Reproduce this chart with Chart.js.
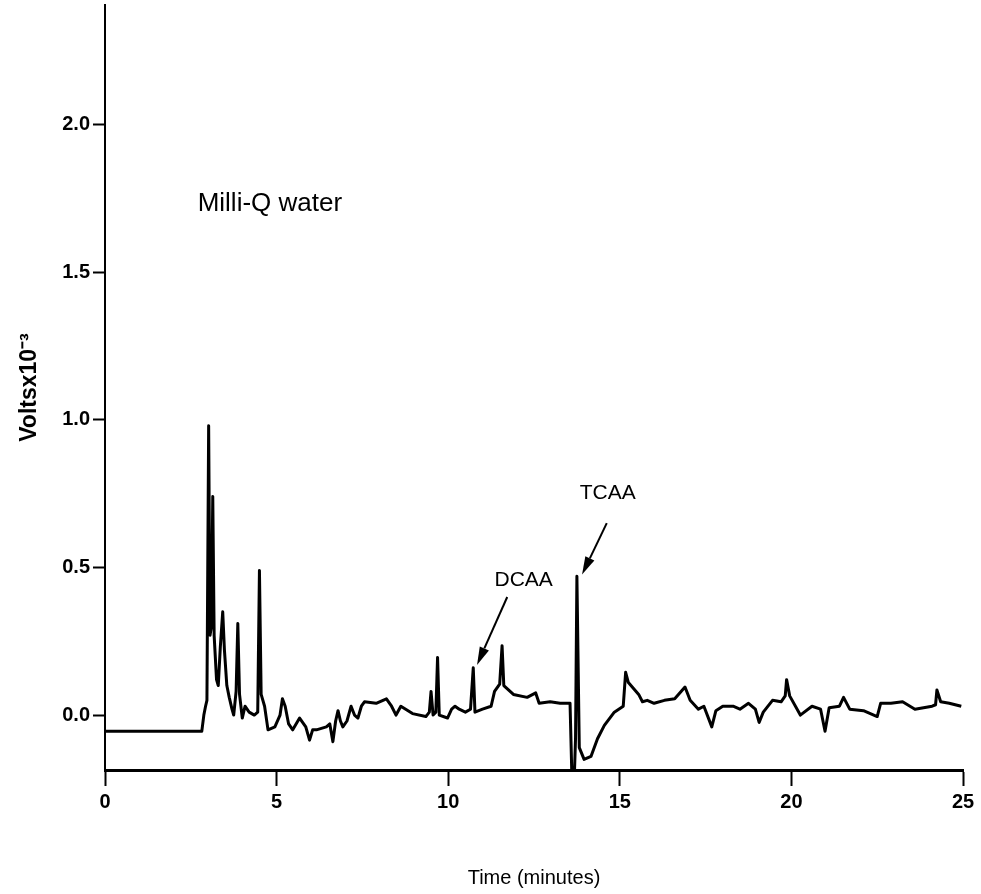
<!DOCTYPE html>
<html>
<head>
<meta charset="utf-8">
<script src="https://cdn.jsdelivr.net/npm/chart.js@4.4.0/dist/chart.umd.min.js"></script>
<style>
  html, body { margin: 0; padding: 0; background: #fff; }
  #wrap { width: 981px; height: 894px; }
</style>
</head>
<body>
<div id="wrap"><canvas id="chromChart" width="981" height="894"></canvas></div>
<script>
// retention time (minutes)
const times = [
  0, 2.82, 2.88, 2.93, 2.97, 3.02, 3.06, 3.10, 3.14, 3.18, 3.25, 3.30, 3.36, 3.43, 3.48,
  3.55, 3.62, 3.70, 3.75, 3.82, 3.87, 3.92, 4.0, 4.08, 4.2, 4.35, 4.45, 4.50, 4.55, 4.65,
  4.75, 4.95, 5.1, 5.17, 5.25, 5.35, 5.47, 5.67, 5.85, 5.96, 6.05, 6.16, 6.45, 6.55, 6.64,
  6.72, 6.79, 6.86, 6.93, 7.05, 7.17, 7.27, 7.37, 7.47, 7.56, 7.9, 8.2, 8.35, 8.48, 8.62,
  8.96, 9.35, 9.45, 9.5, 9.56, 9.64, 9.69, 9.74, 9.98, 10.1, 10.2, 10.32, 10.5, 10.65, 10.73,
  10.78, 11.0, 11.25, 11.35, 11.5, 11.57, 11.62, 11.9, 12.3, 12.55, 12.65, 12.97, 13.26, 13.55, 13.6,
  13.68, 13.71, 13.75, 13.82, 13.96, 14.16, 14.35, 14.55, 14.84, 15.1, 15.17, 15.25, 15.55, 15.66, 15.8,
  16.0, 16.3, 16.6, 16.9, 17.05, 17.29, 17.45, 17.68, 17.8, 18.0, 18.3, 18.5, 18.75, 18.95, 19.06,
  19.18, 19.45, 19.7, 19.82, 19.86, 19.95, 20.26, 20.6, 20.85, 20.98, 21.1, 21.4, 21.52, 21.7, 22.1,
  22.5, 22.6, 22.9, 23.24, 23.6, 24.1, 24.2, 24.24, 24.35, 24.6, 24.95
];

// detector signal (Volts x 10^-3)
const volts = [
  -0.055, -0.055, 0.0, 0.03, 0.05, 0.98, 0.27, 0.30, 0.74, 0.27, 0.12, 0.10, 0.23, 0.35, 0.22,
  0.10, 0.06, 0.02, 0.0, 0.08, 0.31, 0.07, -0.01, 0.03, 0.01, 0.0, 0.01, 0.49, 0.07, 0.03,
  -0.05, -0.04, 0.0, 0.055, 0.03, -0.03, -0.05, -0.01, -0.04, -0.085, -0.05, -0.05, -0.04, -0.03, -0.09,
  -0.02, 0.015, -0.02, -0.04, -0.02, 0.03, 0.0, -0.01, 0.03, 0.045, 0.04, 0.055, 0.03, 0.0, 0.03,
  0.005, -0.005, 0.01, 0.08, 0.0, 0.01, 0.195, 0.0, -0.01, 0.02, 0.03, 0.02, 0.01, 0.02, 0.16,
  0.01, 0.02, 0.03, 0.08, 0.105, 0.235, 0.10, 0.07, 0.06, 0.075, 0.04, 0.045, 0.04, 0.04, -0.19,
  -0.19, -0.08, 0.47, -0.11, -0.15, -0.14, -0.08, -0.035, 0.01, 0.03, 0.145, 0.11, 0.07, 0.045, 0.05,
  0.04, 0.05, 0.055, 0.095, 0.05, 0.02, 0.03, -0.04, 0.015, 0.03, 0.03, 0.02, 0.04, 0.02, -0.025,
  0.01, 0.05, 0.045, 0.065, 0.12, 0.065, 0.0, 0.03, 0.02, -0.055, 0.025, 0.03, 0.06, 0.02, 0.015,
  -0.005, 0.04, 0.04, 0.045, 0.02, 0.03, 0.035, 0.085, 0.045, 0.04, 0.03
];

const xTicks = [0, 5, 10, 15, 20, 25];
const yTicks = [0, 0.5, 1.0, 1.5, 2.0];

// labels on the plot, in data coordinates
const peakLabels = [
  { text: 'DCAA', x: 12.2, y: 0.456, fromX: 11.72, fromY: 0.40, toX: 10.84, toY: 0.17 },
  { text: 'TCAA', x: 14.65, y: 0.753, fromX: 14.62, fromY: 0.65, toX: 13.9, toY: 0.476 }
];
const sampleLabel = { text: 'Milli-Q water', x: 2.7, y: 1.73 };

const FONT = '"Liberation Sans", Arial, sans-serif';

const labelPlugin = {
  id: 'peakLabels',
  afterDatasetsDraw(chart) {
    const ctx = chart.ctx;
    const xs = chart.scales.x, ys = chart.scales.y;
    ctx.save();
    ctx.fillStyle = '#000';
    ctx.strokeStyle = '#000';
    ctx.textBaseline = 'middle';

    ctx.font = '26px ' + FONT;
    ctx.textAlign = 'left';
    ctx.fillText(sampleLabel.text, xs.getPixelForValue(sampleLabel.x), ys.getPixelForValue(sampleLabel.y));

    ctx.font = '21px ' + FONT;
    ctx.textAlign = 'center';
    peakLabels.forEach(p => {
      ctx.fillText(p.text, xs.getPixelForValue(p.x), ys.getPixelForValue(p.y));
      const x1 = xs.getPixelForValue(p.fromX), y1 = ys.getPixelForValue(p.fromY);
      const x2 = xs.getPixelForValue(p.toX), y2 = ys.getPixelForValue(p.toY);
      const ang = Math.atan2(y2 - y1, x2 - x1);
      const head = 18, half = 5;
      const bx = x2 - head * Math.cos(ang), by = y2 - head * Math.sin(ang);
      ctx.lineWidth = 2;
      ctx.beginPath();
      ctx.moveTo(x1, y1);
      ctx.lineTo(bx, by);
      ctx.stroke();
      ctx.beginPath();
      ctx.moveTo(x2, y2);
      ctx.lineTo(bx + half * Math.sin(ang), by - half * Math.cos(ang));
      ctx.lineTo(bx - half * Math.sin(ang), by + half * Math.cos(ang));
      ctx.closePath();
      ctx.fill();
    });
    ctx.restore();
  }
};

const points = times.map((t, i) => ({ x: t, y: volts[i] }));

new Chart(document.getElementById('chromChart').getContext('2d'), {
  type: 'line',
  data: {
    datasets: [{
      data: points,
      borderColor: '#000',
      borderWidth: 3,
      pointRadius: 0,
      tension: 0,
      borderJoinStyle: 'round',
      fill: false
    }]
  },
  options: {
    responsive: false,
    animation: false,
    events: [],
    layout: { padding: { top: 5, right: 18, left: 0, bottom: 0 } },
    plugins: { legend: { display: false }, tooltip: { enabled: false } },
    scales: {
      x: {
        type: 'linear',
        min: 0,
        max: 25,
        afterBuildTicks: s => { s.ticks = xTicks.map(v => ({ value: v })); },
        afterFit: s => { s.height = 124; },
        grid: { drawOnChartArea: false, drawTicks: true, tickLength: 16, tickWidth: 2, tickColor: '#000' },
        border: { display: true, color: '#000', width: 3 },
        ticks: { color: '#000', padding: 4, maxRotation: 0, font: { family: FONT, size: 20, weight: 'bold' } },
        title: {
          display: true,
          text: 'Time (minutes)',
          color: '#000',
          padding: { top: 0, bottom: 4 },
          font: { family: FONT, size: 20 }
        }
      },
      y: {
        type: 'linear',
        min: -0.186,
        max: 2.405,
        afterBuildTicks: s => { s.ticks = yTicks.map(v => ({ value: v })); },
        afterFit: s => { s.width = 105; s.paddingTop = 0; s.paddingBottom = 0; },
        grid: { drawOnChartArea: false, drawTicks: true, tickLength: 12, tickWidth: 2, tickColor: '#000' },
        border: { display: true, color: '#000', width: 2 },
        ticks: {
          color: '#000',
          padding: 3,
          font: { family: FONT, size: 20, weight: 'bold' },
          callback: v => Number(v).toFixed(1)
        },
        title: {
          display: true,
          text: 'Voltsx10\u207B\u00B3',
          color: '#000',
          padding: { top: 16, bottom: 0 },
          font: { family: FONT, size: 23, weight: 'bold' }
        }
      }
    }
  },
  plugins: [labelPlugin]
});
</script>
</body>
</html>
